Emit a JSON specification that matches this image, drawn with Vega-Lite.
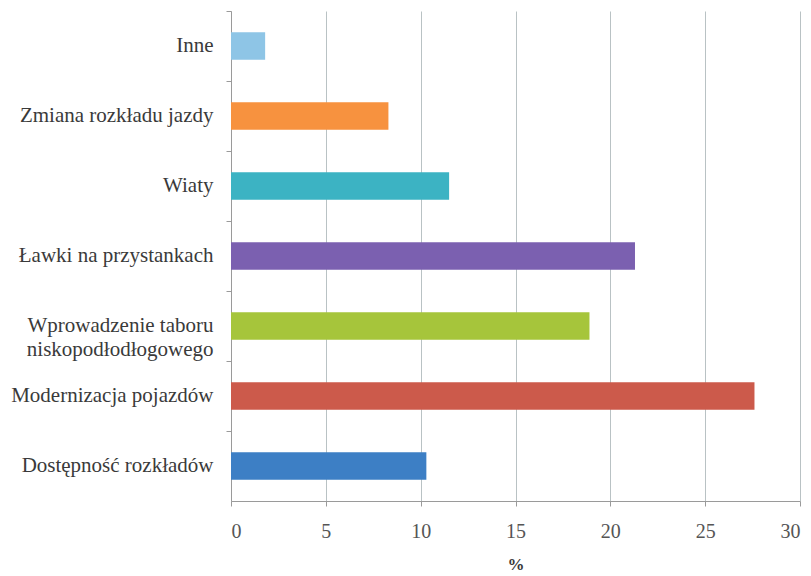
{
  "$schema": "https://vega.github.io/schema/vega-lite/v6.json",
  "autosize": {"type": "none"},
  "width": 569,
  "height": 490,
  "padding": {"left": 231, "top": 11, "right": 11, "bottom": 75},
  "background": "white",
  "data": {
    "values": [
      {"kategoria": "Inne", "procent": 1.8, "kolor": "#8ec5e6"},
      {"kategoria": "Zmiana rozkładu jazdy", "procent": 8.3, "kolor": "#f7923f"},
      {"kategoria": "Wiaty", "procent": 11.5, "kolor": "#3cb3c3"},
      {"kategoria": "Ławki na przystankach", "procent": 21.3, "kolor": "#7b60b0"},
      {"kategoria": "Wprowadzenie taboru niskopodłodłogowego", "procent": 18.9, "kolor": "#a6c53b"},
      {"kategoria": "Modernizacja pojazdów", "procent": 27.6, "kolor": "#cc5a4b"},
      {"kategoria": "Dostępność rozkładów", "procent": 10.3, "kolor": "#3d7fc5"}
    ]
  },
  "mark": {"type": "bar", "height": {"band": 0.39}},
  "encoding": {
    "y": {
      "field": "kategoria",
      "type": "nominal",
      "sort": null,
      "scale": {"paddingInner": 0, "paddingOuter": 0},
      "axis": {
        "title": null,
        "bandPosition": 0,
        "domainColor": "#9a9a9a",
        "tickColor": "#9a9a9a",
        "tickSize": 5,
        "labelPadding": 13,
        "labelFont": "serif",
        "labelFontSize": 21,
        "labelColor": "#3a3a3a",
        "labelLimit": 300,
        "labelLineHeight": 24,
        "labelExpr": "datum.value == 'Wprowadzenie taboru niskopodłodłogowego' ? ['Wprowadzenie taboru', 'niskopodłodłogowego'] : datum.value"
      }
    },
    "x": {
      "field": "procent",
      "type": "quantitative",
      "scale": {"domain": [0, 30], "nice": false},
      "axis": {
        "title": "%",
        "values": [0, 5, 10, 15, 20, 25, 30],
        "grid": true,
        "gridColor": "#b9c2c4",
        "gridWidth": 1,
        "domainColor": "#9a9a9a",
        "tickColor": "#9a9a9a",
        "tickSize": 5,
        "labelPadding": 15,
        "labelFont": "serif",
        "labelFontSize": 20,
        "labelColor": "#555555",
        "titleFont": "serif",
        "titleFontSize": 17,
        "titleFontWeight": "bold",
        "titleColor": "#3a3a3a",
        "titlePadding": 15
      }
    },
    "color": {"field": "kolor", "type": "nominal", "scale": null, "legend": null}
  },
  "config": {"view": {"stroke": null}}
}
